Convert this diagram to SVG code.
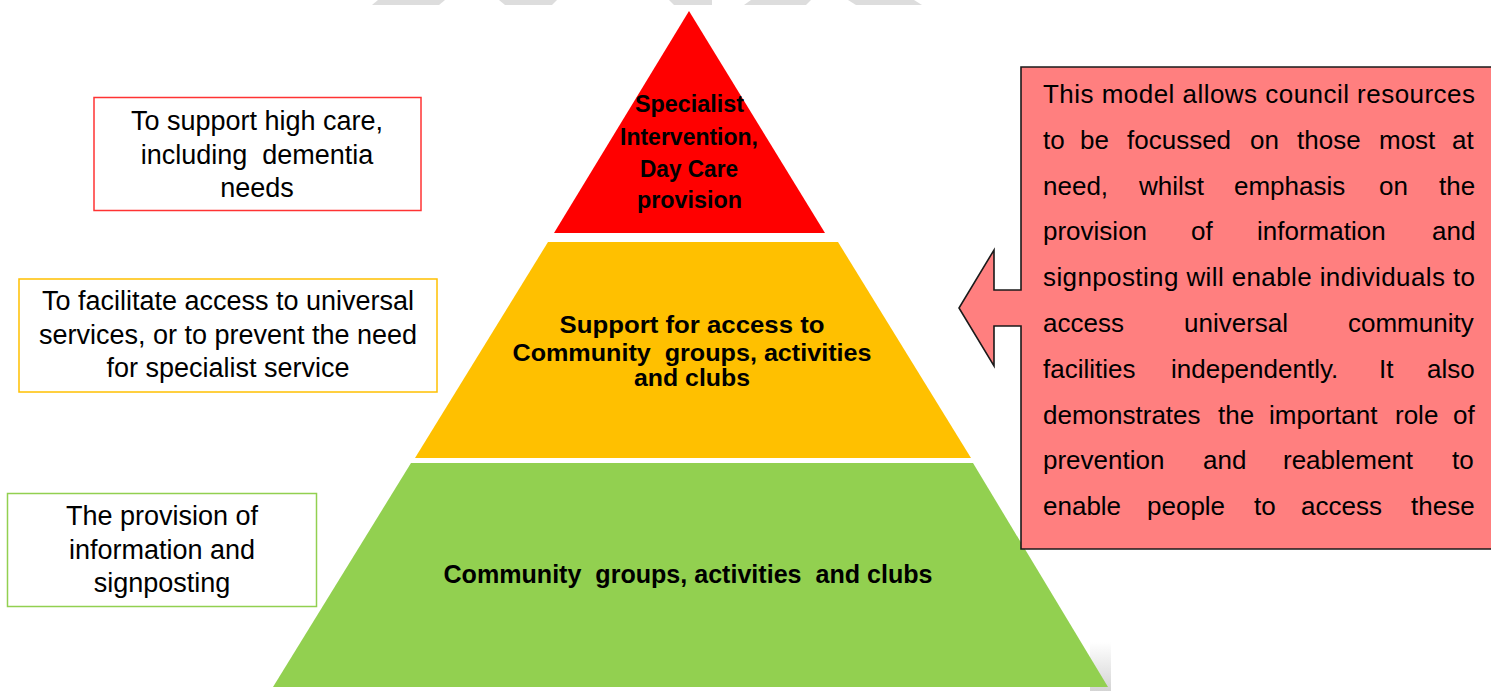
<svg xmlns="http://www.w3.org/2000/svg" width="1491" height="691" viewBox="0 0 1491 691">
<defs>
<linearGradient id="shadow" x1="0" y1="0" x2="0" y2="1">
<stop offset="0" stop-color="#ffffff"/>
<stop offset="1" stop-color="#d4d4d4"/>
</linearGradient>
</defs>
<style>
.deco{fill:#dddddd}
.lbl{font-family:"Liberation Sans",Arial,sans-serif;font-size:27px;fill:#000;text-anchor:middle;white-space:pre}
.bold{font-family:"Liberation Sans",Arial,sans-serif;font-weight:bold;fill:#000;text-anchor:middle;white-space:pre}
.body{font-family:"Liberation Sans",Arial,sans-serif;font-size:26px;fill:#000}
.box{fill:#ffffff;stroke-width:1.5}
</style>
<rect width="1491" height="691" fill="#ffffff"/>
<g id="top-decor">
<polygon class="deco" points="378,0 445,0 439,5 372,5"/>
<polygon class="deco" points="499,0 557,0 552,5 505,5"/>
<polygon class="deco" points="669,0 712,0 712,5 674,5"/>
<polygon class="deco" points="751,0 811,0 806,5 744,5"/>
<polygon class="deco" points="848,0 914,0 922,5 856,5"/>
</g>
<rect x="1090" y="642" width="21" height="49" fill="url(#shadow)"/>
<g id="level-bottom">
<polygon points="411,463 973,463 1108,687 273,687" fill="#92d050"/>
<text class="bold" font-size="25" x="688" y="583" textLength="489" lengthAdjust="spacingAndGlyphs">Community  groups, activities  and clubs</text>
</g>
<g id="level-middle">
<polygon points="548,242 838,242 971,458 415,458" fill="#ffc000"/>
<text class="bold" font-size="24" x="692" y="333" textLength="265" lengthAdjust="spacingAndGlyphs">Support for access to</text>
<text class="bold" font-size="24" x="692" y="361" textLength="359" lengthAdjust="spacingAndGlyphs">Community  groups, activities</text>
<text class="bold" font-size="24" x="692" y="386" textLength="116" lengthAdjust="spacingAndGlyphs">and clubs</text>
</g>
<g id="level-top">
<polygon points="689,11 825,233 554,233" fill="#ff0000"/>
<text class="bold" font-size="23" x="689.5" y="112" textLength="109" lengthAdjust="spacingAndGlyphs">Specialist</text>
<text class="bold" font-size="23" x="689" y="145" textLength="138" lengthAdjust="spacingAndGlyphs">Intervention,</text>
<text class="bold" font-size="23" x="689" y="176.5" textLength="98" lengthAdjust="spacingAndGlyphs">Day Care</text>
<text class="bold" font-size="23" x="689.5" y="208" textLength="105" lengthAdjust="spacingAndGlyphs">provision</text>
</g>
<g id="label-top">
<rect class="box" x="94" y="97.5" width="327" height="113" stroke="#ff3333"/>
<text class="lbl" x="257" y="130">To support high care,</text>
<text class="lbl" x="257" y="163.5">including  dementia</text>
<text class="lbl" x="257" y="197">needs</text>
</g>
<g id="label-middle">
<rect class="box" x="19" y="279" width="418" height="113" stroke="#ffc000"/>
<text class="lbl" x="228" y="310">To facilitate access to universal</text>
<text class="lbl" x="228" y="343.5">services, or to prevent the need</text>
<text class="lbl" x="228" y="377">for specialist service</text>
</g>
<g id="label-bottom">
<rect class="box" x="7.5" y="493.5" width="309" height="113" stroke="#92d050"/>
<text class="lbl" x="162" y="525">The provision of</text>
<text class="lbl" x="162" y="558.5">information and</text>
<text class="lbl" x="162" y="592">signposting</text>
</g>
<g id="callout">
<path d="M1021,67 H1496 V549 H1021 V326 H994 V366 L959,308 L994,250 V290 H1021 Z" fill="#ff7f7f" stroke="#1a1a1a" stroke-width="1.6" stroke-linejoin="miter"/>
<text class="body" y="103"><tspan x="1043" textLength="432" lengthAdjust="spacing">This model allows council resources</tspan></text>
<text class="body" y="148.8"><tspan x="1043">to</tspan><tspan x="1080">be</tspan><tspan x="1127">focussed</tspan><tspan x="1250">on</tspan><tspan x="1297">those</tspan><tspan x="1379">most</tspan><tspan x="1452">at</tspan></text>
<text class="body" y="194.6"><tspan x="1043">need,</tspan><tspan x="1139">whilst</tspan><tspan x="1234">emphasis</tspan><tspan x="1379">on</tspan><tspan x="1439">the</tspan></text>
<text class="body" y="240.4"><tspan x="1043">provision</tspan><tspan x="1191">of</tspan><tspan x="1257">information</tspan><tspan x="1432">and</tspan></text>
<text class="body" y="286.2"><tspan x="1043" textLength="432" lengthAdjust="spacing">signposting will enable individuals to</tspan></text>
<text class="body" y="332"><tspan x="1043">access</tspan><tspan x="1184">universal</tspan><tspan x="1348">community</tspan></text>
<text class="body" y="377.8"><tspan x="1043">facilities</tspan><tspan x="1171">independently.</tspan><tspan x="1379">It</tspan><tspan x="1427">also</tspan></text>
<text class="body" y="423.6"><tspan x="1043">demonstrates</tspan><tspan x="1218">the</tspan><tspan x="1269">important</tspan><tspan x="1395">role</tspan><tspan x="1453">of</tspan></text>
<text class="body" y="469.4"><tspan x="1043">prevention</tspan><tspan x="1203">and</tspan><tspan x="1283">reablement</tspan><tspan x="1452">to</tspan></text>
<text class="body" y="515.2"><tspan x="1043">enable</tspan><tspan x="1147">people</tspan><tspan x="1254">to</tspan><tspan x="1301">access</tspan><tspan x="1411">these</tspan></text>
</g>
<g id="connectors"/>
</svg>
